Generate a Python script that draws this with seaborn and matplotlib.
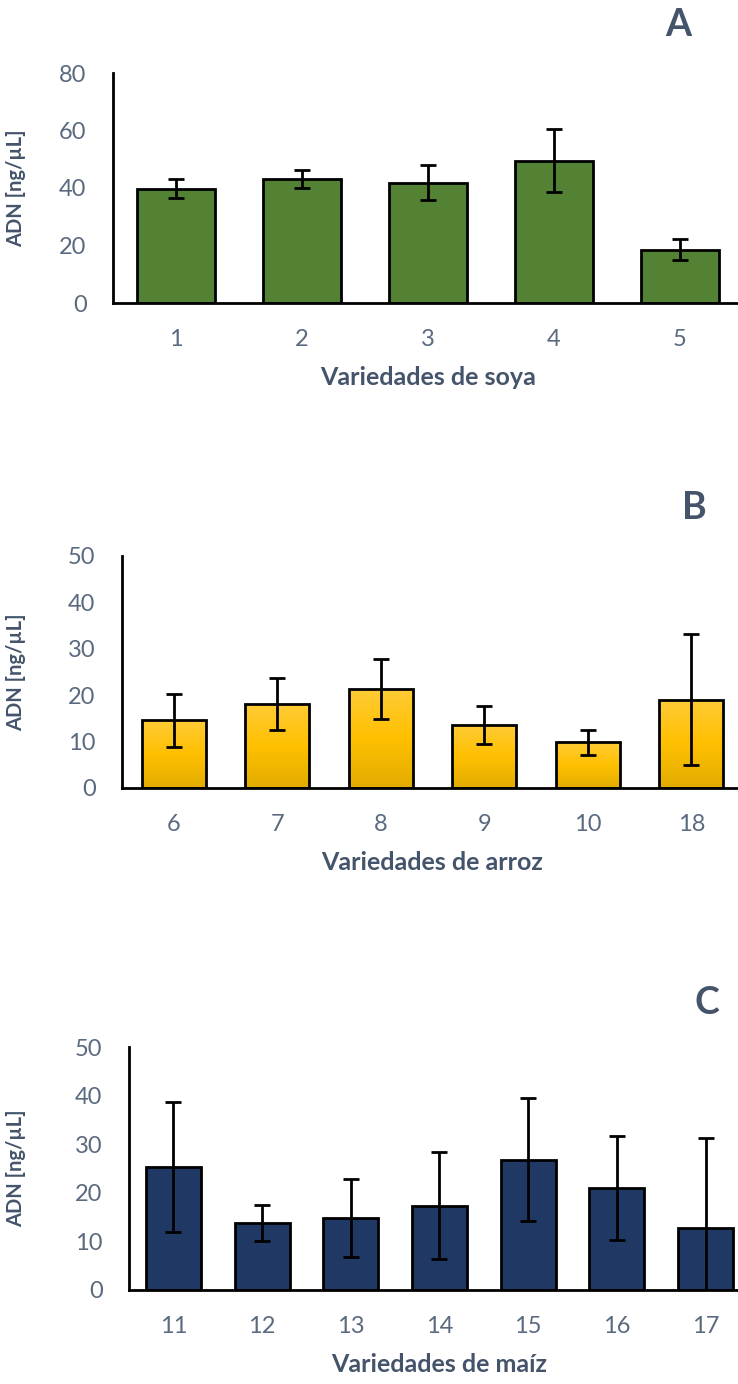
import numpy as np
import matplotlib
matplotlib.use("Agg")
import matplotlib.pyplot as plt
import seaborn as sns

# Datos
soya_var = ["1", "2", "3", "4", "5"]
soya_adn = [39.8, 43.2, 41.9, 49.5, 18.6]
soya_err = [3.2, 3.1, 6.1, 11.0, 3.6]

arroz_var = ["6", "7", "8", "9", "10", "18"]
arroz_adn = [14.6, 18.1, 21.4, 13.5, 9.9, 19.0]
arroz_err = [5.7, 5.6, 6.5, 4.1, 2.7, 14.1]

maiz_var = ["11", "12", "13", "14", "15", "16", "17"]
maiz_adn = [25.3, 13.8, 14.8, 17.3, 26.8, 21.0, 12.7]
maiz_err = [13.4, 3.7, 8.0, 11.0, 12.7, 10.7, 18.6]

sns.set_style("white")
plt.rcParams['font.family'] = ['Lato', 'DejaVu Sans']

TICK_COL = "#5A6A7F"
LAB_COL = "#44546A"

fig = plt.figure(figsize=(7.38, 13.84), dpi=100)


def panel(rect, cats, vals, errs, color, ymax, step, xlabel, letter, letter_xy, gradient=False):
    ax = fig.add_axes(rect)
    sns.barplot(x=cats, y=vals, order=cats, color=color, width=0.62,
                edgecolor="black", linewidth=2, saturation=1, ax=ax)
    ax.errorbar(np.arange(len(cats)), vals, yerr=errs, fmt="none",
                ecolor="black", elinewidth=2, capsize=6, capthick=2, zorder=5)
    if gradient:
        grad = np.linspace(0, 1, 100).reshape(-1, 1)
        cmap = matplotlib.colors.LinearSegmentedColormap.from_list(
            "oro", ["#E2AC00", "#FFC000", "#FFCB36"])
        for p in ax.patches:
            x0, y0 = p.get_x(), p.get_y()
            w, h = p.get_width(), p.get_height()
            im = ax.imshow(grad, extent=[x0, x0 + w, y0, y0 + h], origin="lower",
                           aspect="auto", cmap=cmap, zorder=p.get_zorder() - 0.01)
            im.set_clip_path(p)
            p.set_facecolor("none")
    ax.set_xlim(-0.5, len(cats) - 0.5)
    ax.set_ylim(0, ymax)
    ax.set_yticks(np.arange(0, ymax + 1, step))
    sns.despine(ax=ax)
    for s in ["left", "bottom"]:
        ax.spines[s].set_color("black")
        ax.spines[s].set_linewidth(2)
    ax.tick_params(axis="both", length=0, labelsize=17, labelcolor=TICK_COL)
    ax.tick_params(axis="y", pad=19)
    ax.tick_params(axis="x", pad=19)
    ax.set_xlabel(xlabel, fontsize=18, fontweight="bold", color=LAB_COL, labelpad=11)
    ax.set_ylabel("ADN [ng/µL]", fontsize=14.5, fontweight="bold", color=LAB_COL)
    fig.text(letter_xy[0] / 738, 1 - letter_xy[1] / 1384, letter, fontsize=27,
             fontweight="bold", color=LAB_COL, ha="center", va="center")
    return ax


W = 738.0
H = 1384.0
axA = panel([113 / W, 1 - 303 / H, 630 / W, 230 / H], soya_var, soya_adn, soya_err,
            "#548235", 80, 20, "Variedades de soya", "A", (678, 25))
axB = panel([122 / W, 1 - 788 / H, 621 / W, 232 / H], arroz_var, arroz_adn, arroz_err,
            "#FFC000", 50, 10, "Variedades de arroz", "B", (694, 508), gradient=True)
axC = panel([129 / W, 1 - 1290 / H, 621 / W, 243 / H], maiz_var, maiz_adn, maiz_err,
            "#203864", 50, 10, "Variedades de maíz", "C", (707, 1003))

# la etiqueta y esta mas a la izquierda
for ax, x in [(axA, 26), (axB, 26), (axC, 26)]:
    bb = ax.get_position()
    ax.yaxis.set_label_coords((x - bb.x0 * W) / (bb.width * W), 0.5)

fig.savefig("out.png", dpi=100)
